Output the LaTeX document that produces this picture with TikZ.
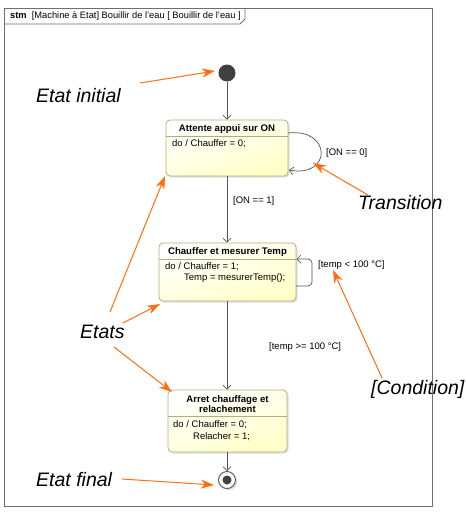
\documentclass[tikz,border=0pt]{standalone}
\usepackage{fontspec}
\setmainfont{Liberation Sans}
\usetikzlibrary{arrows.meta,shadows,calc}
\definecolor{annot}{RGB}{255,110,15}
\definecolor{lin}{RGB}{85,85,85}
\definecolor{frm}{RGB}{110,110,110}
\definecolor{sborder}{RGB}{175,175,125}
\definecolor{sfill}{RGB}{255,255,200}
\definecolor{dark}{RGB}{64,64,64}
\begin{document}
\begin{tikzpicture}[x=1pt,y=-1pt,
  every node/.style={inner sep=0pt, font=\fontsize{9.5}{11}\selectfont},
  statebox/.style={draw=sborder, rounded corners=4pt, line width=0.8pt,
    top color=white, bottom color=sfill, shading angle=20,
    drop shadow={shadow xshift=1.5pt, shadow yshift=-1.5pt, fill=black!25}},
  divider/.style={draw=sborder, line width=0.8pt},
  title/.style={font=\fontsize{9.6}{10.5}\selectfont\bfseries, align=center},
  body/.style={anchor=west},
  trans/.style={draw=lin, line width=0.7pt, -{Straight Barb[length=4pt,width=8pt,line width=0.7pt]}},
  guard/.style={anchor=west},
  annotext/.style={font=\fontsize{19.5}{22}\selectfont\itshape, anchor=west},
  annoarrow/.style={draw=annot, line width=1pt, -{Stealth[length=13pt,width=9pt,inset=4pt]}}
]
\useasboundingbox (0,0) rectangle (466,520);

% frame
\draw[frm, line width=0.8pt] (4,8) rectangle (432,506);
\draw[frm, line width=0.8pt] (4,24) -- (240,24) -- (245,19) -- (245,8);
\node[anchor=west, font=\fontsize{9.3}{10}\selectfont] (hdr) at (10,16.5)
  {\textbf{stm}\ \ [Machine à Etat] Bouillir de l'eau [ Bouillir de l'eau ]};

% initial state
\node[circle, fill=dark, minimum size=17pt] (init) at (227,73) {};

% state 1
\node[statebox, minimum width=122pt, minimum height=56pt] (s1) at (227,148) {};
\draw[divider] (s1.west |- 0,136) -- (s1.east |- 0,136);
\node[title] (s1t) at (227,129) {Attente appui sur ON};
\node[body] (s1b) at (172,144) {do / Chauffer = 0;};

% state 2
\node[statebox, minimum width=137pt, minimum height=58pt] (s2) at (227.5,272) {};
\draw[divider] (s2.west |- 0,259) -- (s2.east |- 0,259);
\node[title] (s2t) at (227.5,252) {Chauffer et mesurer Temp};
\node[body] (s2b) at (165,266.5) {do / Chauffer = 1;};
\node[body] (s2c) at (184,278) {Temp = mesurerTemp();};

% state 3
\node[statebox, minimum width=119pt, minimum height=62pt] (s3) at (227.5,421) {};
\draw[divider] (s3.west |- 0,416) -- (s3.east |- 0,416);
\node[title] (s3t) at (227.5,404) {Arret chauffage et\\relachement};
\node[body] (s3b) at (173,425) {do / Chauffer = 0;};
\node[body] (s3c) at (193,436.5) {Relacher = 1;};

% final state
\node[circle, draw=lin, line width=0.9pt, fill=white, minimum size=17pt,
  drop shadow={shadow xshift=1.5pt, shadow yshift=-1.5pt, fill=black!30}] (fin) at (227,480) {};
\node[circle, fill=dark, minimum size=9pt] (finc) at (fin.center) {};

% transitions
\draw[trans] (init) -- (init |- s1.north);
\draw[trans] (s1.south -| 227,0) -- (s2.north -| 227,0);
\draw[trans] (s2.south -| 227,0) -- (s3.north -| 227,0);
\draw[trans] (s3.south -| 227,0) -- (fin);

\coordinate (l1a) at (288,133);
\coordinate (l1b) at (289,170);
\draw[trans] (l1a) .. controls (332,128) and (332,178) .. (l1b);
\coordinate (l2a) at (296,286);
\coordinate (l2b) at (296.5,259);
\draw[trans, rounded corners=4pt] (l2a) -- (312,286) -- (312,259) -- (l2b);

% guards
\node[guard] (g1) at (326,153) {[ON == 0]};
\node[guard] (g2) at (233,201) {[ON == 1]};
\node[guard] (g3) at (318,265) {[temp < 100 °C]};
\node[guard] (g4) at (269,347) {[temp >= 100 °C]};

% annotations
\node[annotext] (aInit) at (36,96) {Etat initial};
\node[annotext] (aTrans) at (358,203) {Transition};
\node[annotext] (aEtats) at (80,332) {Etats};
\node[annotext] (aCond) at (371,389) {[Condition]};
\node[annotext] (aFin) at (36,480) {Etat final};

\coordinate (pInit0) at (140,83);  \coordinate (pInit1) at (215,71);
\coordinate (pTr0) at (368,195);   \coordinate (pTr1) at (313,163);
\coordinate (pE10) at (110,312);   \coordinate (pE11) at (165,176);
\coordinate (pE20) at (123,323);   \coordinate (pE21) at (160,304);
\coordinate (pE30) at (114,347);   \coordinate (pE31) at (172,392);
\coordinate (pC0) at (382,378);    \coordinate (pC1) at (333,270);
\coordinate (pF0) at (122,479);    \coordinate (pF1) at (214,485);

\draw[annoarrow] (pInit0) -- (pInit1);
\draw[annoarrow] (pTr0) -- (pTr1);
\draw[annoarrow] (pE10) -- (pE11);
\draw[annoarrow] (pE20) -- (pE21);
\draw[annoarrow] (pE30) -- (pE31);
\draw[annoarrow] (pC0) -- (pC1);
\draw[annoarrow] (pF0) -- (pF1);
\end{tikzpicture}
\end{document}
